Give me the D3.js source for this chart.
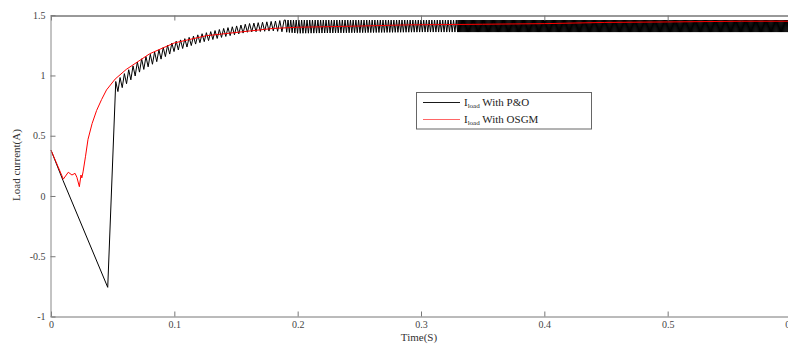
<!DOCTYPE html>
<html>
<head>
<meta charset="utf-8">
<script src="https://cdn.jsdelivr.net/npm/d3@7"></script>
<style>
  body { margin: 0; background: #fff; }
  svg { display: block; }
  .tick text { font-family: "Liberation Serif", serif; font-size: 10px; fill: #444; }
</style>
</head>
<body>
<svg width="788" height="345"></svg>
<script>
// x tick labels / y tick labels
var xTicks = [0, 0.1, 0.2, 0.3, 0.4, 0.5, 0.6];
var yTicks = [-1, -0.5, 0, 0.5, 1, 1.5];

// I_load with OSGM (red)
var osgmT = [0, 0.01, 0.014, 0.017, 0.0195, 0.021, 0.023, 0.0243, 0.025, 0.026, 0.028, 0.03, 0.0333, 0.037, 0.041,
             0.045, 0.052, 0.061, 0.08, 0.1, 0.126, 0.153, 0.18, 0.2, 0.25, 0.29, 0.35, 0.4, 0.449, 0.5, 0.56, 0.6];
var osgmV = [0.38, 0.14, 0.197, 0.174, 0.188, 0.155, 0.077, 0.174, 0.15, 0.2, 0.33, 0.47, 0.6, 0.71, 0.8,
             0.88, 0.97, 1.05, 1.18, 1.27, 1.33, 1.36, 1.39, 1.40, 1.41, 1.42, 1.425, 1.43, 1.44, 1.444, 1.45, 1.45];

// I_load with P&O (black): start-up part
var poHeadT = [0, 0.0097, 0.046, 0.0525];
var poHeadV = [0.38, 0.13, -0.758, 0.95];
// P&O oscillation: envelope (peaks / troughs)
var poEnvT    = [0.0525, 0.06, 0.072, 0.085, 0.1, 0.12, 0.14, 0.16, 0.18, 0.19, 0.2, 0.3, 0.6];
var poEnvHigh = [0.95, 1.02, 1.13, 1.2, 1.28, 1.34, 1.39, 1.43, 1.45, 1.46, 1.46, 1.46, 1.46];
var poEnvLow  = [0.85, 0.92, 1.03, 1.11, 1.2, 1.27, 1.32, 1.36, 1.37, 1.36, 1.35, 1.36, 1.36];
// perturbation step length per stretch of time
var poStepFrom = [0.0525, 0.19, 0.33];
var poStepTo   = [0.19, 0.33, 0.6];
var poStepDt   = [0.0035, 0.0022, 0.0009];

var svg = d3.select("svg");
var x = d3.scaleLinear().domain([0, 0.6]).range([51, 791]);
var y = d3.scaleLinear().domain([-1, 1.5]).range([316.5, 15.2]);

var hi = d3.scaleLinear().domain(poEnvT).range(poEnvHigh);
var lo = d3.scaleLinear().domain(poEnvT).range(poEnvLow);

var poPts = poHeadT.map(function(t, i) { return [t, poHeadV[i]]; });
poStepFrom.forEach(function(t0, s) {
    var dt = poStepDt[s], up = true;
    for (var t = t0; t < poStepTo[s]; t += dt / 2) {
        poPts.push([t, up ? hi(t) : lo(t)]);
        up = !up;
    }
});
var osgmPts = osgmT.map(function(t, i) { return [t, osgmV[i]]; });

var line = d3.line().x(function(d) { return x(d[0]); }).y(function(d) { return y(d[1]); });

svg.append("path").datum(poPts).attr("d", line)
    .attr("fill", "none").attr("stroke", "#000").attr("stroke-width", 1);
svg.append("path").datum(osgmPts).attr("d", line)
    .attr("fill", "none").attr("stroke", "#f00").attr("stroke-width", 1);

// axes
var xAxis = svg.append("g").attr("transform", "translate(0,316.5)")
    .call(d3.axisBottom(x).tickValues(xTicks).tickFormat(function(d) { return String(d); })
        .tickSizeInner(-5).tickSizeOuter(0).tickPadding(4));
xAxis.select(".domain").attr("stroke", "#777");
xAxis.selectAll(".tick line").attr("stroke", "#777");

var topAxis = svg.append("g").attr("transform", "translate(0,15.5)")
    .call(d3.axisTop(x).tickValues(xTicks).tickFormat("").tickSizeInner(-5).tickSizeOuter(0));
topAxis.select(".domain").attr("stroke", "#333");
topAxis.selectAll(".tick line").attr("stroke", "#777");

var yAxis = svg.append("g").attr("transform", "translate(50.5,0)")
    .call(d3.axisLeft(y).tickValues(yTicks).tickFormat(function(d) { return String(d); })
        .tickSizeInner(-5).tickSizeOuter(0).tickPadding(5));
yAxis.select(".domain").attr("stroke", "#888");
yAxis.selectAll(".tick line").attr("stroke", "#777");

// axis titles
svg.append("text").attr("x", 419).attr("y", 341).attr("text-anchor", "middle")
    .style("font-family", "Liberation Serif, serif").style("font-size", "11px").style("fill", "#333")
    .text("Time(S)");
svg.append("text").attr("transform", "translate(20,165) rotate(-90)").attr("text-anchor", "middle")
    .style("font-family", "Liberation Serif, serif").style("font-size", "11px").style("fill", "#333")
    .text("Load current(A)");

// legend
var legend = svg.append("g");
legend.append("rect").attr("x", 416.5).attr("y", 92.5).attr("width", 175).attr("height", 36.5)
    .attr("fill", "#fff").attr("stroke", "#666");
var legItems = [{label: " With P&O", color: "#000", yy: 102.5}, {label: " With OSGM", color: "#f00", yy: 119.5}];
legItems.forEach(function(d) {
    legend.append("line").attr("x1", 423).attr("x2", 460).attr("y1", d.yy).attr("y2", d.yy)
        .attr("stroke", d.color).attr("stroke-width", 1).attr("stroke-opacity", d.color === "#f00" ? 0.6 : 0.9);
    var t = legend.append("text").attr("x", 464).attr("y", d.yy + 3)
        .style("font-family", "Liberation Serif, serif").style("font-size", "11px").style("fill", "#222");
    t.append("tspan").text("I");
    t.append("tspan").attr("dy", 2).style("font-size", "7px").text("load");
    t.append("tspan").attr("dy", -2).text(d.label);
});
</script>
</body>
</html>
